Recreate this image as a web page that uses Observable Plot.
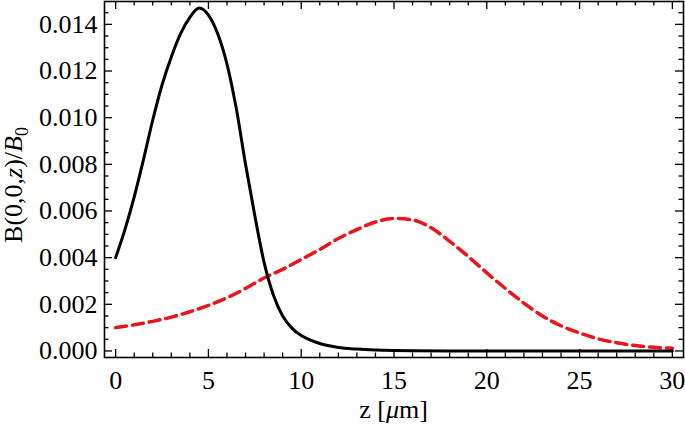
<!DOCTYPE html>
<html>
<head>
<meta charset="utf-8">
<script src="https://cdn.jsdelivr.net/npm/d3@7"></script>
<script src="https://cdn.jsdelivr.net/npm/@observablehq/plot@0.6"></script>
<style>
  html, body { margin: 0; padding: 0; background: #fff; }
  #chart { width: 685px; height: 437px; }
  #chart svg text { font-family: 'Liberation Serif', 'Times New Roman', serif; }
</style>
</head>
<body>
<div id="chart"></div>
<script>
// Solid black curve
const zBlack = [0, 0.5, 1, 1.5, 2, 2.5, 3, 3.5, 4, 4.5, 5, 5.5, 6, 6.5, 7, 7.5, 8, 8.5, 9, 9.5, 10, 10.5, 11, 11.5, 12, 13, 14, 15, 16, 18, 20, 25, 30];
const bBlack = [0.0040, 0.0052, 0.0066, 0.0082, 0.0099, 0.0114, 0.0126, 0.0136, 0.0143, 0.0147, 0.0144, 0.0136, 0.0123, 0.0104, 0.0080, 0.0058, 0.0038, 0.0024, 0.00150, 0.00098, 0.00066, 0.00046, 0.00032, 0.00022, 0.00015, 0.00008, 0.00004, 0.00002, 0.00001, 0.000004, 0, 0, 0];
// Dashed red curve
const zRed = [0, 1, 2, 3, 4, 5, 6, 7, 8, 9, 10, 11, 12, 13, 14, 15, 16, 17, 18, 19, 20, 21, 22, 23, 24, 25, 26, 27, 28, 29, 30];
const bRed = [0.00100, 0.00112, 0.00127, 0.00145, 0.00168, 0.00195, 0.00228, 0.00268, 0.00313, 0.00350, 0.00392, 0.00435, 0.00482, 0.00520, 0.00553, 0.00568, 0.00562, 0.00528, 0.00470, 0.00405, 0.00335, 0.00268, 0.00205, 0.00150, 0.00108, 0.00077, 0.00052, 0.00035, 0.00023, 0.00016, 0.00012];
// Axis ticks
const xMajor = [0, 5, 10, 15, 20, 25, 30];
const xMinor = d3.range(0, 31, 1);
const yMajor = [0, 0.002, 0.004, 0.006, 0.008, 0.010, 0.012, 0.014];
const yMinor = d3.range(0, 30).map(i => i * 0.0005);

const black = zBlack.map((z, i) => ({z, b: bBlack[i]}));
const red = zRed.map((z, i) => ({z, b: bRed[i]}));

const W = 685, H = 437, mL = 104, mR = 2, mT = 1, mB = 80;
const iW = W - mL - mR, iH = H - mT - mB;
const majLen = 8, minLen = 4.5;
const FS = 26;
const xMin = xMinor.filter(d => !xMajor.includes(d));
const yMin = yMinor.filter(d => !yMajor.some(m => Math.abs(m - d) < 1e-9));
const ff = "'Liberation Serif', 'Times New Roman', serif";

const chart = Plot.plot({
  width: W, height: H,
  marginLeft: mL, marginRight: mR, marginTop: mT, marginBottom: mB,
  style: {fontFamily: ff, fontSize: FS + "px", color: "#000", background: "#fff"},
  x: {domain: [-0.6, 30.6]},
  y: {domain: [-0.00028, 0.01498]},
  marks: [
    Plot.line(red, {x: "z", y: "b", stroke: "#e8161b", strokeWidth: 3.5, strokeDasharray: "11,6", curve: "monotone-x"}),
    Plot.line(black, {x: "z", y: "b", stroke: "#000", strokeWidth: 3, curve: "monotone-x"}),
    // inward ticks: bottom & top
    Plot.tickX(xMajor, {x: d => d, insetTop: iH - majLen, stroke: "#000", strokeWidth: 1.3}),
    Plot.tickX(xMin, {x: d => d, insetTop: iH - minLen, stroke: "#000", strokeWidth: 1.3}),
    Plot.tickX(xMajor, {x: d => d, insetBottom: iH - majLen, stroke: "#000", strokeWidth: 1.3}),
    Plot.tickX(xMin, {x: d => d, insetBottom: iH - minLen, stroke: "#000", strokeWidth: 1.3}),
    // inward ticks: left & right
    Plot.tickY(yMajor, {y: d => d, insetRight: iW - majLen, stroke: "#000", strokeWidth: 1.3}),
    Plot.tickY(yMin, {y: d => d, insetRight: iW - minLen, stroke: "#000", strokeWidth: 1.3}),
    Plot.tickY(yMajor, {y: d => d, insetLeft: iW - majLen, stroke: "#000", strokeWidth: 1.3}),
    Plot.tickY(yMin, {y: d => d, insetLeft: iW - minLen, stroke: "#000", strokeWidth: 1.3}),
    Plot.axisX(xMajor, {tickSize: 0, tickPadding: 13, label: null, fontSize: FS}),
    Plot.axisY(yMajor, {tickSize: 0, tickPadding: 7, label: null, fontSize: FS, tickFormat: d3.format(".3f")}),
    Plot.frame({stroke: "#000", strokeWidth: 1.6})
  ]
});

document.getElementById("chart").appendChild(chart);

const svg = d3.select(chart);
// enforce tick label size
svg.selectAll("g[aria-label$='tick label']")
  .attr("font-size", FS).style("font-size", FS + "px").attr("font-family", ff);

// y-axis title
const yt = svg.append("text")
  .attr("transform", `translate(22,${mT + iH / 2 + 6}) rotate(-90)`)
  .attr("text-anchor", "middle")
  .attr("font-family", ff).attr("font-size", FS).attr("fill", "#000");
yt.append("tspan").text("B(0,0,");
yt.append("tspan").attr("font-style", "italic").text("z");
yt.append("tspan").text(")/");
yt.append("tspan").attr("font-style", "italic").text("B");
yt.append("tspan").attr("font-size", 18).attr("dy", 6).text("0");
// x-axis title
const xt = svg.append("text")
  .attr("x", mL + iW / 2).attr("y", 418)
  .attr("text-anchor", "middle")
  .attr("font-family", ff).attr("font-size", FS).attr("fill", "#000");
xt.append("tspan").text("z [");
xt.append("tspan").attr("font-style", "italic").text("μ");
xt.append("tspan").text("m]");
</script>
</body>
</html>
